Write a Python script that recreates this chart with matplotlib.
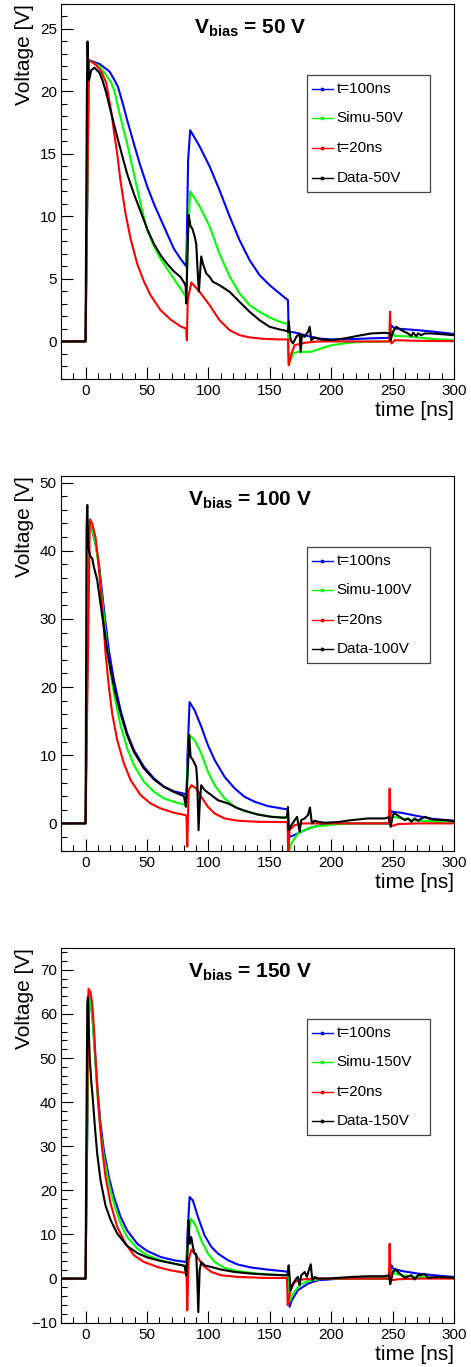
import matplotlib
matplotlib.use('Agg')
import matplotlib.pyplot as plt
from matplotlib.ticker import MultipleLocator
from matplotlib.patches import Rectangle
from matplotlib.lines import Line2D

plt.rcParams['font.family'] = ['Liberation Sans', 'DejaVu Sans']
plt.rcParams['mathtext.fontset'] = 'custom'
plt.rcParams['mathtext.rm'] = 'Liberation Sans'
plt.rcParams['mathtext.bf'] = 'Liberation Sans:bold'

# ---------------- data: (time [ns], voltage [V]) ----------------
blue50 = [(-20, 0), (0, 0), (2.7, 22.5), (11.4, 22.2), (19.5, 21.6), (23.6, 20.9), (26.3, 20.4), (30.4, 19.0),
          (33.9, 17.7), (39.4, 15.8), (44.8, 14.0), (50.2, 12.4), (55.7, 11.0), (61.1, 9.8), (66.5, 8.6),
          (72.0, 7.4), (77.4, 6.6), (82.0, 6.0), (82.6, 9.0), (83.5, 14.5), (85.2, 16.9), (92.9, 15.6),
          (101.0, 14.0), (109.1, 12.1), (117.3, 10.0), (125.4, 8.1), (133.6, 6.5), (141.7, 5.3), (149.9, 4.5),
          (158.0, 3.84), (164.8, 3.3), (165.4, 0.77), (170.2, 0.72), (178.4, 0.5), (189.0, 0.24), (200.0, 0.16),
          (216.0, 0.18), (230.0, 0.24), (247.6, 0.29), (248.6, 1.3), (251.7, 1.04), (259.9, 0.98), (270.7, 0.9),
          (284.3, 0.77), (300.0, 0.6)]
green50 = [(-20, 0), (0, 0), (2.7, 22.5), (11.4, 22.0), (16.8, 21.3), (20.9, 20.7), (23.6, 20.0), (26.3, 18.8),
           (28.5, 17.9), (33.9, 15.8), (39.4, 13.4), (44.8, 11.0), (50.2, 8.9), (55.7, 7.6), (61.1, 6.6),
           (66.5, 5.8), (72.0, 5.0), (77.4, 4.2), (81.5, 3.6), (82.3, 3.5), (83.0, 8.0), (85.2, 12.0), (92.9, 10.8),
           (101.0, 9.2), (109.1, 7.0), (117.3, 5.2), (125.4, 3.84), (133.6, 2.9), (141.7, 2.37), (149.9, 1.92),
           (158.0, 1.57), (164.8, 1.38), (165.5, -1.9), (168.9, -0.96), (173.0, -0.83), (183.8, -0.83),
           (189.3, -0.64), (200.1, -0.3), (216.4, -0.08), (230.0, -0.03), (248.4, 0.0), (249.2, 0.9),
           (251.7, 0.42), (259.9, 0.42), (270.7, 0.32), (284.3, 0.18), (300.0, 0.1)]
red50 = [(-20, 0), (0, 0), (2.7, 22.5), (6.8, 22.25), (8.7, 22.1), (12.8, 21.6), (16.8, 20.7), (19.5, 19.2),
         (21.5, 18.0), (23.1, 16.8), (25.8, 15.0), (28.5, 12.8), (32.6, 10.2), (36.7, 8.2), (42.1, 6.2),
         (47.5, 4.8), (52.9, 3.7), (61.1, 2.5), (69.2, 1.75), (77.4, 1.2), (81.5, 1.04), (82.0, 0.96), (82.5, 0.1),
         (83.2, 3.3), (86.1, 4.72), (92.9, 3.97), (101.0, 2.9), (109.1, 1.7), (117.3, 0.9), (125.4, 0.5),
         (133.6, 0.32), (144.4, 0.21), (158.0, 0.16), (164.8, 0.16), (165.4, -1.9), (167.6, -0.96),
         (170.3, -0.3), (178.4, -0.11), (189.0, 0.0), (247.3, 0.0), (247.9, 2.37), (248.6, 0.0),
         (249.2, -0.16), (251.7, 0.1), (270.7, 0.05), (300.0, 0.02)]
data50 = [(-20, 0), (0, 0), (0.6, 12.0), (1.1, 20.1), (1.6, 24.0), (2.2, 21.6), (2.7, 20.9), (3.3, 21.1),
          (4.6, 21.7), (7.3, 21.9), (9.2, 21.7), (11.4, 21.5), (14.1, 20.8), (16.8, 19.9), (19.5, 18.8),
          (23.1, 17.4), (26.5, 16.1), (30.0, 14.8), (33.9, 13.4), (39.4, 11.8), (44.8, 10.4), (50.2, 9.0),
          (55.7, 7.8), (61.1, 6.9), (66.5, 6.2), (72.0, 5.6), (77.4, 5.15), (80.6, 4.64), (81.5, 4.4),
          (82.0, 3.04), (83.0, 7.0), (83.9, 10.1), (84.7, 9.7), (85.5, 9.2), (86.9, 9.04), (88.8, 8.4),
          (90.1, 7.84), (91.5, 5.2), (92.3, 4.0), (93.4, 5.7), (94.2, 6.8), (95.5, 6.24), (98.3, 5.44),
          (101.0, 5.17), (103.7, 4.77), (109.1, 4.5), (117.3, 3.97), (125.4, 3.17), (133.6, 2.37), (141.7, 1.7),
          (149.9, 1.17), (158.0, 0.96), (163.4, 0.85), (164.8, 0.77), (165.4, 1.6), (167.0, 0.1),
          (168.9, -0.16), (171.6, 0.37), (174.3, 0.64), (175.1, -0.83), (176.2, 0.5), (178.4, 0.37),
          (181.1, 0.77), (182.5, 1.17), (183.8, 0.1), (186.5, 0.32), (191.9, 0.16), (200.0, 0.1),
          (210.9, 0.24), (221.8, 0.45), (232.6, 0.64), (243.5, 0.69), (247.6, 0.64), (248.4, 0.1),
          (250.3, 0.77), (253.0, 1.17), (257.1, 0.9), (262.5, 0.64), (265.3, 0.42), (266.7, 0.7),
          (269.3, 0.42), (270.7, 0.64), (273.4, 0.5), (276.2, 0.64), (281.6, 0.64), (289.8, 0.58), (300.0, 0.5)]

blue100 = [(-20, 0), (0, 0), (2.7, 44.2), (5.4, 43.0), (8.1, 41.0), (10.9, 38.1), (13.6, 33.7), (16.3, 29.3),
           (19.0, 25.4), (23.1, 21.0), (28.5, 16.6), (33.9, 13.2), (39.4, 10.75), (47.5, 8.3), (55.7, 6.6),
           (63.8, 5.4), (72.0, 4.7), (81.5, 4.3), (82.2, 4.2), (83.0, 10.0), (84.7, 17.8), (88.8, 16.6),
           (94.2, 14.2), (99.6, 11.5), (105.1, 9.3), (113.2, 6.84), (121.4, 5.13), (129.5, 3.9), (137.7, 3.18),
           (148.5, 2.54), (159.4, 2.2), (164.8, 2.05), (165.8, -2.0), (170.2, -1.7), (175.6, -1.22),
           (183.8, -0.6), (191.9, -0.25), (202.7, -0.1), (216.0, 0.0), (248.0, 0.0), (249.0, 1.8),
           (250.3, 1.7), (257.1, 1.56), (270.7, 1.07), (284.3, 0.63), (300.0, 0.39)]
green100 = [(-20, 0), (0, 0), (2.7, 44.2), (5.4, 43.0), (8.1, 41.0), (10.9, 37.6), (13.6, 32.7), (16.3, 27.8),
            (19.0, 23.7), (23.1, 19.0), (28.5, 14.4), (33.9, 11.0), (39.4, 8.55), (47.5, 6.1), (55.7, 4.64),
            (63.8, 3.66), (72.0, 3.17), (81.5, 2.68), (82.3, 2.6), (83.0, 8.0), (84.7, 12.95), (88.8, 12.2),
            (94.2, 10.26), (99.6, 7.57), (105.1, 5.6), (113.2, 3.66), (121.4, 2.44), (129.5, 1.8), (140.4, 1.3),
            (151.2, 0.97), (164.8, 0.83), (165.5, -4.2), (167.6, -2.9), (173.0, -1.46), (181.1, -0.73),
            (189.3, -0.4), (202.7, -0.15), (216.0, 0.0), (248.0, 0.0), (249.0, 1.4), (250.3, 0.97),
            (257.1, 0.73), (270.7, 0.39), (300.0, 0.1)]
red100 = [(-20, 0), (0, 0), (3.5, 44.6), (5.4, 44.0), (8.1, 42.0), (10.0, 39.1), (12.2, 34.7), (14.4, 29.8),
          (16.3, 24.9), (19.0, 20.0), (21.7, 16.1), (25.8, 12.2), (31.2, 8.8), (36.7, 6.35), (44.8, 4.15),
          (52.9, 2.93), (61.1, 2.2), (72.0, 1.56), (81.5, 1.22), (82.2, 1.0), (82.8, -3.4), (83.9, 4.9),
          (86.1, 5.6), (90.1, 5.13), (94.2, 3.9), (99.6, 2.44), (105.1, 1.46), (113.2, 0.73), (124.1, 0.39),
          (140.4, 0.24), (162.1, 0.2), (164.5, 0.2), (165.0, -4.5), (166.1, -1.0), (170.2, -0.25), (177.0, 0.0),
          (247.0, 0.0), (247.6, 5.1), (248.3, 0.0), (249.0, -0.4), (254.4, -0.1), (270.0, 0.0), (300.0, 0.0)]
data100 = [(-20, 0), (0, 0), (0.5, 25.0), (0.8, 43.0), (1.4, 46.7), (2.2, 40.6), (3.0, 39.8), (4.1, 39.1),
           (5.4, 38.9), (6.8, 37.6), (9.5, 35.7), (12.2, 32.2), (14.9, 28.8), (17.6, 25.4), (20.4, 22.5),
           (24.4, 19.0), (28.5, 16.1), (33.9, 12.9), (39.4, 10.5), (47.5, 8.06), (55.7, 6.45), (63.8, 5.37),
           (72.0, 4.6), (80.1, 4.0), (81.7, 2.44), (82.8, 6.3), (83.4, 8.3), (84.4, 12.95), (85.5, 9.8),
           (87.4, 9.3), (90.1, 8.3), (91.0, 6.0), (92.0, -1.0), (93.1, 3.4), (94.2, 5.6), (96.9, 4.9),
           (102.4, 4.15), (107.8, 3.4), (116.0, 2.93), (124.1, 2.2), (132.3, 1.71), (140.4, 1.3), (151.2, 0.97),
           (162.1, 0.83), (164.0, 1.0), (164.8, 2.4), (165.3, -1.0), (167.6, -0.25), (170.3, 0.48),
           (172.2, 0.97), (174.3, -1.22), (175.6, 0.48), (178.4, 0.73), (181.1, 1.22), (182.7, 2.34),
           (184.3, 0.0), (186.5, 0.4), (189.3, 0.24), (194.7, 0.1), (205.6, 0.2), (216.4, 0.48), (230.0, 0.73),
           (243.5, 0.73), (247.0, 0.9), (248.4, -0.5), (250.3, 1.22), (251.7, 1.46), (255.8, 0.97),
           (259.9, 0.48), (262.5, 0.73), (265.3, 0.24), (268.0, 0.73), (270.7, 0.4), (276.2, 0.97),
           (281.6, 0.58), (292.5, 0.48), (300.0, 0.34)]

blue150 = [(-20, 0), (0, 0), (2.7, 64.6), (5.4, 60.0), (6.8, 54.8), (8.1, 49.5), (10.0, 41.9), (12.2, 35.1),
           (14.9, 29.1), (19.0, 23.0), (23.1, 18.5), (28.5, 14.0), (33.9, 10.9), (42.1, 7.9), (50.2, 6.26),
           (61.1, 4.9), (72.0, 4.15), (81.5, 3.77), (82.2, 3.8), (83.0, 10.0), (84.7, 18.5), (87.4, 17.7),
           (91.5, 14.0), (96.9, 9.8), (102.4, 7.2), (107.8, 5.66), (116.0, 4.15), (124.1, 3.17), (135.0, 2.5),
           (148.5, 2.03), (162.1, 1.65), (164.8, 1.5), (166.1, -6.4), (168.0, -4.9), (172.9, -2.64),
           (181.1, -1.13), (189.3, -0.38), (202.7, -0.1), (216.0, 0.0), (248.0, 0.0), (249.0, 3.0),
           (250.3, 2.27), (257.1, 1.74), (270.7, 1.13), (284.3, 0.75), (300.0, 0.37)]
green150 = [(-20, 0), (0, 0), (2.7, 64.6), (5.4, 59.7), (6.8, 54.0), (8.1, 48.7), (10.0, 40.4), (12.2, 33.6),
            (14.9, 27.6), (19.0, 21.5), (23.1, 17.0), (28.5, 12.5), (33.9, 9.4), (42.1, 6.8), (50.2, 5.29),
            (61.1, 4.15), (72.0, 3.4), (81.5, 2.8), (82.2, 2.8), (83.2, 8.0), (85.5, 13.6), (88.8, 12.5),
            (94.2, 8.68), (99.6, 5.66), (105.1, 3.78), (113.2, 2.42), (124.1, 1.66), (140.4, 1.13),
            (162.1, 0.75), (164.8, 0.7), (165.8, -5.3), (168.9, -3.4), (174.3, -1.5), (181.1, -0.53),
            (192.0, -0.08), (216.0, 0.0), (248.0, 0.0), (249.0, 2.0), (250.3, 1.28), (257.1, 0.75),
            (270.7, 0.37), (300.0, 0.07)]
red150 = [(-20, 0), (0, 0), (2.4, 65.7), (4.1, 64.9), (5.4, 62.3), (6.8, 57.0), (8.1, 50.2), (9.5, 43.4),
          (11.4, 35.9), (13.6, 29.1), (16.3, 23.0), (20.4, 17.0), (25.8, 11.7), (32.6, 7.9), (39.4, 5.28),
          (47.5, 3.77), (58.4, 2.64), (69.2, 1.88), (81.5, 1.28), (82.2, 1.1), (82.8, -7.2), (83.9, 4.15),
          (86.1, 6.57), (90.1, 5.28), (95.5, 3.0), (102.4, 1.5), (110.5, 0.75), (124.1, 0.37), (148.5, 0.14),
          (164.0, 0.14), (164.6, -6.0), (166.8, -2.64), (170.3, -0.75), (175.6, -0.23), (185.0, 0.0),
          (247.0, 0.0), (247.6, 7.9), (248.3, 0.0), (249.0, -0.38), (254.4, -0.15), (270.0, 0.0), (300.0, 0.0)]
data150 = [(-20, 0), (0, 0), (0.6, 30.0), (1.4, 62.3), (1.9, 63.8), (2.7, 55.5), (3.5, 49.5), (4.6, 44.9),
           (6.0, 40.4), (7.6, 34.4), (9.5, 28.3), (12.2, 22.3), (16.3, 16.5), (20.4, 13.3), (25.8, 10.2),
           (33.9, 7.4), (42.1, 5.8), (50.2, 4.8), (61.1, 4.0), (72.0, 3.4), (80.6, 2.9), (82.0, 0.75), (83.0, 6.0),
           (83.9, 13.2), (84.7, 7.9), (86.1, 9.4), (87.4, 7.2), (88.8, 5.66), (90.1, 5.6), (90.9, 0.4),
           (91.8, -7.6), (92.9, 1.9), (94.2, 3.78), (96.9, 3.0), (102.4, 2.64), (110.5, 2.04), (121.4, 1.5),
           (135.0, 1.13), (148.5, 0.9), (162.1, 0.75), (164.5, 0.8), (165.4, 3.0), (167.0, -2.64),
           (168.9, -1.13), (171.6, 0.0), (172.9, 0.37), (174.3, -1.5), (175.6, 0.75), (178.4, 1.5),
           (180.2, 0.4), (181.8, 1.9), (183.4, 3.25), (184.6, -0.38), (186.5, 0.37), (189.3, 0.0), (197.2, 0.0),
           (216.4, 0.37), (230.0, 0.53), (243.5, 0.53), (247.0, 0.75), (248.1, -1.28), (250.3, 1.5),
           (252.2, 2.04), (255.8, 1.13), (259.9, 0.2), (265.3, 0.75), (268.0, -0.2), (270.7, 0.75),
           (276.2, 1.0), (278.9, 0.2), (287.0, 0.37), (300.0, 0.2)]

bias_labels = ['50', '100', '150']
series_names = ['t=100ns', 'Simu-{}V', 't=20ns', 'Data-{}V']
y_limits = [(-3, 27), (-4, 51), (-10, 75)]
y_major = [5, 10, 10]
y_minor = [1, 2, 2]
panels = [[blue50, green50, red50, data50],
          [blue100, green100, red100, data100],
          [blue150, green150, red150, data150]]

colors = ['#0000ff', '#00ff00', '#ff0000', '#000000']

fig = plt.figure(figsize=(4.71, 13.67), dpi=100)
rects = [(0.1295, 0.7228, 0.8344, 0.2743),
         (0.1295, 0.3777, 0.8344, 0.2743),
         (0.1295, 0.0324, 0.8344, 0.2743)]

leg_ys = [0.7725, 0.6952, 0.6152, 0.5368]

for i, rect in enumerate(rects):
    ax = fig.add_axes(rect)
    for curve, col in zip(panels[i], colors):
        ts = [p[0] for p in curve]
        vs = [p[1] for p in curve]
        ax.plot(ts, vs, color=col, lw=1.5, solid_joinstyle='round')
    ax.set_xlim(-20, 300)
    ax.set_ylim(*y_limits[i])
    ax.xaxis.set_major_locator(MultipleLocator(50))
    ax.xaxis.set_minor_locator(MultipleLocator(10))
    ax.yaxis.set_major_locator(MultipleLocator(y_major[i]))
    ax.yaxis.set_minor_locator(MultipleLocator(y_minor[i]))
    ax.tick_params(which='both', direction='in', top=False, right=False, width=0.8)
    ax.tick_params(which='major', length=8.6, labelsize=11)
    ax.tick_params(axis='x', which='major', pad=3.5)
    ax.tick_params(axis='y', which='major', pad=3)
    ax.tick_params(which='minor', length=4.3)
    for s in ax.spines.values():
        s.set_linewidth(0.8)

    ax.text(-0.094, 1.0, 'Voltage [V]', rotation=90, ha='center', va='top',
            transform=ax.transAxes, fontsize=15)
    ax.text(1.0, -0.085, 'time [ns]', ha='right', va='center',
            transform=ax.transAxes, fontsize=15)
    ax.text(0.481, 0.92, r'$\mathbf{V_{bias}}$' + ' = {} V'.format(bias_labels[i]),
            fontweight='bold', fontsize=15, ha='center', va='baseline', transform=ax.transAxes)

    # legend box
    ax.add_patch(Rectangle((0.626, 0.4995), 0.313, 0.3115, transform=ax.transAxes,
                           facecolor='white', edgecolor='#444444', lw=0.9, zorder=5))
    for y, name, col in zip(leg_ys, series_names, colors):
        ax.add_line(Line2D([0.638, 0.6645, 0.691], [y, y, y], transform=ax.transAxes,
                           color=col, lw=1.0, marker='o', markevery=[1], ms=1.8, zorder=6))
        ax.text(0.7015, y, name.format(bias_labels[i]), transform=ax.transAxes,
                fontsize=11, ha='left', va='center', zorder=6)

fig.savefig('out.png', dpi=100)
